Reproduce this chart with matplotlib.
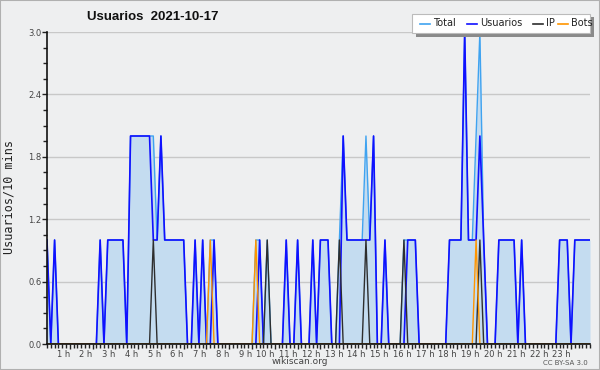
import matplotlib
matplotlib.use("Agg")
import matplotlib.pyplot as plt
from matplotlib.patches import Rectangle
from matplotlib.lines import Line2D
from matplotlib.ticker import FixedLocator, MultipleLocator

OUTPUT_IMAGE = "out.png"

# one row per hour, six 10-minute bins per row
total = [
    1, 0, 1, 0, 0, 0,
    0, 0, 0, 0, 0, 0,
    0, 0, 1, 0, 1, 1,
    1, 1, 1, 0, 2, 2,
    2, 2, 2, 2, 2, 1,
    2, 1, 1, 1, 1, 1,
    1, 0, 0, 1, 0, 1,
    0, 1, 1, 0, 0, 0,
    0, 0, 0, 0, 0, 0,
    0, 1, 1, 0, 1, 0,
    0, 0, 0, 1, 0, 0,
    1, 0, 0, 0, 1, 0,
    1, 1, 1, 0, 0, 1,
    2, 1, 1, 1, 1, 1,
    2, 1, 2, 0, 0, 1,
    0, 0, 0, 0, 1, 1,
    1, 1, 0, 0, 0, 0,
    0, 0, 0, 0, 1, 1,
    1, 1, 3, 1, 1, 2,
    3, 1, 0, 0, 0, 1,
    1, 1, 1, 1, 0, 1,
    0, 0, 0, 0, 0, 0,
    0, 0, 0, 1, 1, 1,
    0, 1, 1, 1, 1, 1,
]

usuarios = [
    1, 0, 1, 0, 0, 0,
    0, 0, 0, 0, 0, 0,
    0, 0, 1, 0, 1, 1,
    1, 1, 1, 0, 2, 2,
    2, 2, 2, 2, 1, 1,
    2, 1, 1, 1, 1, 1,
    1, 0, 0, 1, 0, 1,
    0, 0, 1, 0, 0, 0,
    0, 0, 0, 0, 0, 0,
    0, 0, 1, 0, 0, 0,
    0, 0, 0, 1, 0, 0,
    1, 0, 0, 0, 1, 0,
    1, 1, 1, 0, 0, 0,
    2, 1, 1, 1, 1, 1,
    1, 1, 2, 0, 0, 1,
    0, 0, 0, 0, 0, 1,
    1, 1, 0, 0, 0, 0,
    0, 0, 0, 0, 1, 1,
    1, 1, 3, 1, 1, 1,
    2, 1, 0, 0, 0, 1,
    1, 1, 1, 1, 0, 1,
    0, 0, 0, 0, 0, 0,
    0, 0, 0, 1, 1, 1,
    0, 1, 1, 1, 1, 1,
]

ip = [
    0, 0, 0, 0, 0, 0,
    0, 0, 0, 0, 0, 0,
    0, 0, 0, 0, 0, 0,
    0, 0, 0, 0, 0, 0,
    0, 0, 0, 0, 1, 0,
    0, 0, 0, 0, 0, 0,
    0, 0, 0, 0, 0, 0,
    0, 0, 0, 0, 0, 0,
    0, 0, 0, 0, 0, 0,
    0, 0, 0, 0, 1, 0,
    0, 0, 0, 0, 0, 0,
    0, 0, 0, 0, 0, 0,
    0, 0, 0, 0, 0, 1,
    0, 0, 0, 0, 0, 0,
    1, 0, 0, 0, 0, 0,
    0, 0, 0, 0, 1, 0,
    0, 0, 0, 0, 0, 0,
    0, 0, 0, 0, 0, 0,
    0, 0, 0, 0, 0, 0,
    1, 0, 0, 0, 0, 0,
    0, 0, 0, 0, 0, 0,
    0, 0, 0, 0, 0, 0,
    0, 0, 0, 0, 0, 0,
    0, 0, 0, 0, 0, 0,
]

bots = [
    0, 0, 0, 0, 0, 0,
    0, 0, 0, 0, 0, 0,
    0, 0, 0, 0, 0, 0,
    0, 0, 0, 0, 0, 0,
    0, 0, 0, 0, 0, 0,
    0, 0, 0, 0, 0, 0,
    0, 0, 0, 0, 0, 0,
    0, 1, 0, 0, 0, 0,
    0, 0, 0, 0, 0, 0,
    0, 1, 0, 0, 0, 0,
    0, 0, 0, 0, 0, 0,
    0, 0, 0, 0, 0, 0,
    0, 0, 0, 0, 0, 0,
    0, 0, 0, 0, 0, 0,
    0, 0, 0, 0, 0, 0,
    0, 0, 0, 0, 0, 0,
    0, 0, 0, 0, 0, 0,
    0, 0, 0, 0, 0, 0,
    0, 0, 0, 0, 0, 1,
    0, 0, 0, 0, 0, 0,
    0, 0, 0, 0, 0, 0,
    0, 0, 0, 0, 0, 0,
    0, 0, 0, 0, 0, 0,
    0, 0, 0, 0, 0, 0,
]

hour_labels = [f"{h} h" for h in range(1, 24)]
y_ticks = [0.0, 0.6, 1.2, 1.8, 2.4, 3.0]

series = [
    ("Total", total, "#3fa3f0", 1.0),
    ("Usuarios", usuarios, "#1010ff", 1.2),
    ("IP", ip, "#2e2e2e", 1.0),
    ("Bots", bots, "#ff9500", 1.0),
]

BG = "#eeeff0"


def main():
    fig = plt.figure(figsize=(6, 3.7), dpi=100, facecolor=BG)
    ax = fig.add_axes([47 / 600, 1 - 344 / 370, 543 / 600, 312 / 370])
    ax.set_facecolor(BG)

    x = list(range(len(total)))
    ax.fill_between(x, total, 0, color="#c4dcf0", lw=0)
    for name, vals, color, lw in series:
        ax.plot(x, vals, color=color, lw=lw, label=name)

    ax.set_xlim(0, len(total) - 1)
    ax.set_ylim(0, 3.0)

    ax.set_yticks(y_ticks)
    ax.set_yticklabels([f"{v:.1f}" for v in y_ticks])
    ax.yaxis.set_minor_locator(MultipleLocator(0.15))
    ax.grid(axis="y", color="#c8c8c8", lw=1)
    ax.set_axisbelow(True)

    hour_pos = [6 * h for h in range(1, 24)]
    ax.xaxis.set_major_locator(FixedLocator(hour_pos))
    ax.xaxis.set_minor_locator(MultipleLocator(1))
    ax.set_xticklabels(hour_labels)
    for lab in ax.get_xticklabels():
        lab.set_horizontalalignment("right")

    ax.tick_params(axis="both", which="major", labelsize=6, colors="#222222",
                   labelcolor="#444444", length=3.5, width=1, pad=0.5)
    ax.tick_params(axis="both", which="minor", length=3, width=1, colors="#222222")

    for side in ("top", "right"):
        ax.spines[side].set_visible(False)
    for side in ("left", "bottom"):
        ax.spines[side].set_color("#111111")
        ax.spines[side].set_linewidth(1.2)

    fig.text(9 / 600, 1 - 197 / 370, "Usuarios/10 mins", fontsize=8.5,
             family="DejaVu Sans Mono", rotation=90, ha="center", va="center",
             color="#222222")

    fig.text(153 / 600, 1 - 17 / 370, "Usuarios  2021-10-17", fontsize=9.5,
             family="Liberation Sans", fontweight="bold", ha="center",
             va="center", color="#111111")
    fig.text(300 / 600, 1 - 362 / 370, "wikiscan.org", fontsize=6.5,
             ha="center", va="center", color="#444444")
    fig.text(588 / 600, 1 - 363 / 370, "CC BY-SA 3.0", fontsize=5,
             ha="right", va="center", color="#555555")

    # legend box with shadow
    fx = lambda px: px / 600
    fy = lambda py: 1 - py / 370
    fig.patches.append(Rectangle((fx(416), fy(37)), fx(594) - fx(416), fy(17) - fy(37),
                                 transform=fig.transFigure, facecolor="#8a8a8a",
                                 edgecolor="none", zorder=5))
    fig.patches.append(Rectangle((fx(412), fy(33)), fx(590) - fx(412), fy(14) - fy(33),
                                 transform=fig.transFigure, facecolor="white",
                                 edgecolor="#bbbbbb", lw=0.8, zorder=6))
    starts = [420, 467, 533, 558]
    for (name, vals, color, lw), sx in zip(series, starts):
        fig.lines.append(Line2D([fx(sx), fx(sx + 10)], [fy(23.5), fy(23.5)],
                                transform=fig.transFigure, color=color, lw=1.2, zorder=7))
        fig.text(fx(sx + 13), fy(23.5), name, fontsize=7, ha="left", va="center",
                 color="#222222", zorder=7)

    fig.patches.append(Rectangle((0, 0), 1, 1, transform=fig.transFigure,
                                 facecolor="none", edgecolor="#b0b0b0", lw=1.5, zorder=8))

    fig.savefig(OUTPUT_IMAGE, dpi=100, facecolor=BG)
    print(f"saved {OUTPUT_IMAGE}")


if __name__ == "__main__":
    main()
